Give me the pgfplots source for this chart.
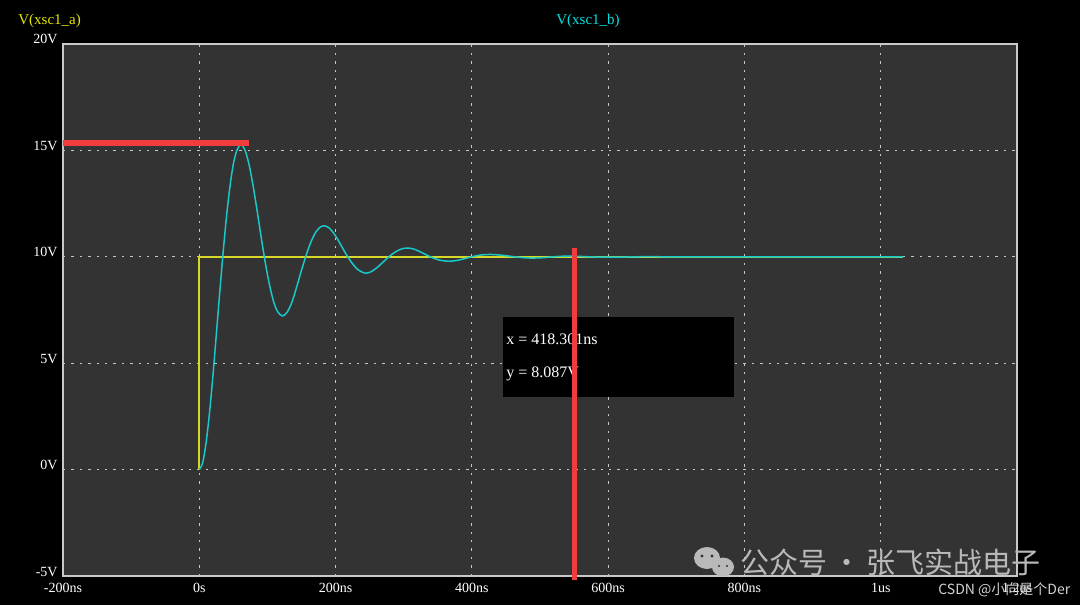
\documentclass[border=0pt]{standalone}
\usepackage{pgfplots}
\pgfplotsset{compat=1.18}
\usepackage{fontspec}
\setmainfont{Liberation Serif}
\newfontfamily\cjk{Noto Sans CJK SC}
\definecolor{plotbg}{RGB}{51,51,51}
\definecolor{gridc}{RGB}{200,200,200}
\definecolor{traceA}{RGB}{215,215,40}
\definecolor{traceB}{RGB}{25,200,200}
\definecolor{titleA}{RGB}{230,230,0}
\definecolor{titleB}{RGB}{0,225,225}
\definecolor{marker}{RGB}{240,60,60}
\definecolor{wm}{RGB}{185,185,185}
\begin{document}
\begin{tikzpicture}[font=\fontsize{7}{8}\selectfont]
% black canvas, 1px = 0.5pt
\fill[black] (-31.5pt,-14.5pt) rectangle (508.5pt,288pt);
\begin{axis}[
  scale only axis,
  width=477pt, height=266pt,
  xmin=-200, xmax=1200, ymin=-5, ymax=20,
  clip=false,
  axis background/.style={fill=plotbg},
  axis line style={gridc, line width=0.7pt},
  major tick length=0pt,
  xtick={-200,0,200,400,600,800,1000,1200},
  xticklabels={-200ns,0s,200ns,400ns,600ns,800ns,1us,1.2us},
  ytick={-5,0,5,10,15,20},
  yticklabels={-5V,0V,5V,10V,15V,20V},
  xticklabel style={white, anchor=north, inner sep=0pt, yshift=-3.5pt},
  yticklabel style={white, anchor=base east, inner sep=0pt, xshift=-2.5pt},
  grid=major,
  major grid style={gridc, line width=0.6pt, dash pattern=on 1.2pt off 3pt},
]
% V(xsc1_a): input step
\addplot[traceA, line width=0.8pt] coordinates {(0,0) (0,10) (1033,10)};
% V(xsc1_b): ringing response
\addplot[traceB, line width=0.75pt, smooth] coordinates {
  (0,0) (5,0.33) (10,1.27) (15,2.67) (20,4.40) (25,6.35) (30,8.32) (35,10.21)
  (40,11.90) (45,13.30) (50,14.36) (55,14.99) (61,15.27) (67,15.02) (73,14.34)
  (79,13.33) (85,12.14) (91,10.88) (97,9.70) (103,8.69) (109,7.90) (115,7.42)
  (122,7.22) (129,7.40) (136,7.87) (143,8.59) (150,9.37) (157,10.09) (164,10.71)
  (171,11.16) (178,11.41) (183,11.46) (190,11.37) (197,11.12) (204,10.77)
  (211,10.37) (218,9.99) (225,9.67) (232,9.42) (239,9.28) (244,9.23) (251,9.28)
  (260,9.47) (270,9.76) (280,10.05) (290,10.27) (298,10.38) (305,10.41)
  (313,10.38) (322,10.27) (332,10.11) (342,9.96) (352,9.85) (366,9.79)
  (380,9.84) (395,9.96) (410,10.07) (427,10.11) (445,10.07) (460,10.01)
  (475,9.96) (488,9.94) (505,9.96) (520,10.0) (535,10.03) (549,10.03)
  (565,10.01) (580,9.99) (610,9.98) (640,10.0) (671,10.01) (700,10.0) (1033,10.0)
};
% cursor readout box
\fill[black] (axis cs:446,3.43) rectangle (axis cs:784,7.19);
\node[anchor=west, inner sep=0pt, white, font=\fontsize{8}{9}\selectfont] at (axis cs:450,6.11) {x = 418.301ns};
\node[anchor=west, inner sep=0pt, white, font=\fontsize{8}{9}\selectfont] at (axis cs:450,4.51) {y = 8.087V};
% red markers
\addplot[marker, line width=3pt] coordinates {(-200,15.34) (73,15.34)};
\addplot[marker, line width=2.5pt] coordinates {(550,10.39) (550,-5.19)};
\end{axis}
% trace titles
\node[anchor=west, inner sep=0pt, titleA, font=\fontsize{7.5}{9}\selectfont] at (-22.5pt,277.5pt) {V(xsc1\_a)};
\node[inner sep=0pt, titleB, font=\fontsize{7.5}{9}\selectfont] at (262.5pt,277.5pt) {V(xsc1\_b)};
% watermark
\fill[wm] (322pt,9pt) ellipse (6.5pt and 5.5pt);
\fill[wm] (330pt,4.5pt) ellipse (5.5pt and 4.7pt);
\fill[plotbg] (319.5pt,10pt) circle (0.8pt) (324.5pt,10pt) circle (0.8pt);
\fill[plotbg] (328pt,5pt) circle (0.6pt) (332pt,5pt) circle (0.6pt);
\node[anchor=west, inner sep=0pt, wm, font=\cjk\fontsize{14.5}{16}\selectfont] at (338.5pt,7pt) {公众号\,·\,张飞实战电子};
\node[anchor=west, inner sep=0pt, color={rgb,255:red,210;green,210;blue,210}, font=\cjk\fontsize{7}{8}\selectfont] at (437.5pt,-7pt) {CSDN @小向是个Der};
\end{tikzpicture}
\end{document}
